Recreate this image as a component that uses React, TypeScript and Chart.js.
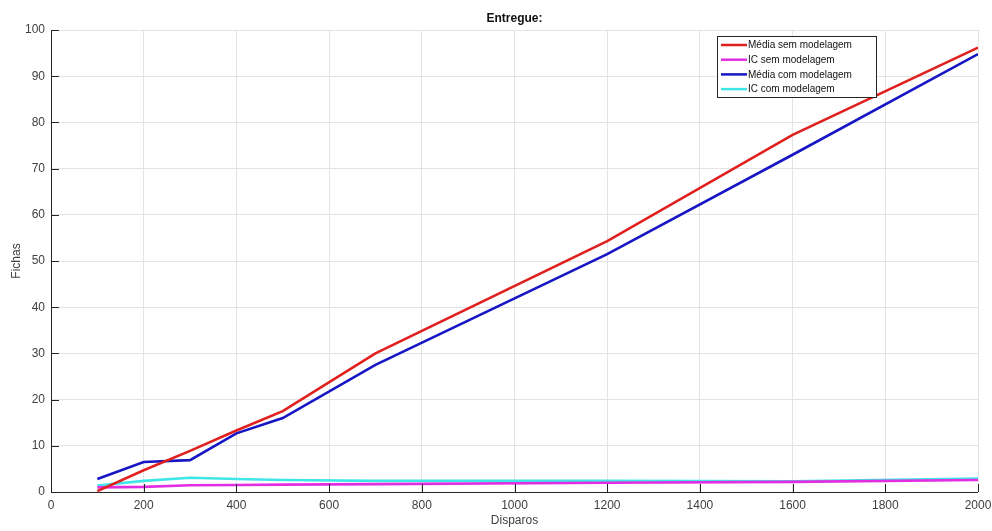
import React, { useEffect, useRef } from "react";
import { Chart, registerables } from "chart.js";

Chart.register(...registerables);

const disparos = [100, 200, 300, 400, 500, 700, 1200, 1600, 2000];
const mediaSem = [0.2, 4.7, 8.9, 13.3, 17.5, 30.0, 54.3, 77.3, 96.2];
const icSem = [1.0, 1.1, 1.45, 1.5, 1.6, 1.7, 2.0, 2.2, 2.6];
const mediaCom = [2.8, 6.5, 6.9, 12.7, 16.0, 27.5, 51.5, 73.0, 94.8];
const icCom = [1.4, 2.4, 3.1, 2.8, 2.6, 2.4, 2.4, 2.3, 2.9];

const xTicks = [0, 200, 400, 600, 800, 1000, 1200, 1400, 1600, 1800, 2000];
const yTicks = [0, 10, 20, 30, 40, 50, 60, 70, 80, 90, 100];

const seriesNames = ["Média sem modelagem", "IC sem modelagem", "Média com modelagem", "IC com modelagem"];
const seriesColors = ["#e0201e", "#e22ee2", "#1616c4", "#40e6e6"];

const FONT = "'Liberation Sans', Arial, Helvetica, sans-serif";
const AXIS = "#262626";
const LABEL = "#404040";

const pts = (ys: number[]) => disparos.map((x, i) => ({ x, y: ys[i] }));

// Title, inward tick marks, axis lines and the boxed legend
const decorations = {
  id: "decorations",
  afterDraw(chart: any) {
    const { ctx, chartArea: a, scales } = chart;
    const xs = scales.x;
    const ys = scales.y;
    ctx.save();
    ctx.strokeStyle = AXIS;
    ctx.lineWidth = 1;
    ctx.beginPath();
    ctx.moveTo(a.left + 0.5, a.top);
    ctx.lineTo(a.left + 0.5, a.bottom + 0.5);
    ctx.lineTo(a.right, a.bottom + 0.5);
    ctx.stroke();
    ctx.beginPath();
    for (const t of yTicks) {
      const py = Math.round(ys.getPixelForValue(t)) + 0.5;
      ctx.moveTo(a.left, py);
      ctx.lineTo(a.left + 8, py);
    }
    for (const t of xTicks) {
      const px = Math.round(xs.getPixelForValue(t)) + 0.5;
      ctx.moveTo(px, a.bottom);
      ctx.lineTo(px, a.bottom - 8);
    }
    ctx.stroke();

    ctx.fillStyle = "#111";
    ctx.font = `bold 12px ${FONT}`;
    ctx.textAlign = "center";
    ctx.textBaseline = "middle";
    ctx.fillText("Entregue:", (a.left + a.right) / 2, 19);

    // legend
    const lx = 717, ly = 36, lw = 159, lh = 61;
    ctx.fillStyle = "#ffffff";
    ctx.fillRect(lx, ly, lw, lh);
    ctx.strokeStyle = "#262626";
    ctx.lineWidth = 1;
    ctx.strokeRect(lx + 0.5, ly + 0.5, lw, lh);
    ctx.font = `10px ${FONT}`;
    ctx.textAlign = "left";
    seriesNames.forEach((name, i) => {
      const yy = ly + 9 + i * 14.7;
      ctx.strokeStyle = seriesColors[i];
      ctx.lineWidth = 2.5;
      ctx.beginPath();
      ctx.moveTo(lx + 4, yy);
      ctx.lineTo(lx + 30, yy);
      ctx.stroke();
      ctx.fillStyle = "#111";
      ctx.fillText(name, lx + 31, yy + 0.5);
    });
    ctx.restore();
  },
};

export default function App() {
  const ref = useRef<HTMLCanvasElement>(null);

  useEffect(() => {
    document.body.style.margin = "0";
    const chart = new Chart(ref.current!, {
      type: "line",
      data: {
        datasets: [mediaSem, icSem, mediaCom, icCom].map((ys, i) => ({
          label: seriesNames[i],
          data: pts(ys),
          borderColor: seriesColors[i],
          backgroundColor: seriesColors[i],
          borderWidth: 2.6,
          pointRadius: 0,
          tension: 0,
          fill: false,
        })),
      },
      options: {
        animation: false,
        responsive: false,
        layout: { padding: { top: 30, right: 14, left: 0, bottom: 0 } },
        plugins: { legend: { display: false }, title: { display: false }, tooltip: { enabled: false } },
        scales: {
          x: {
            type: "linear",
            min: 0,
            max: 2000,
            afterBuildTicks: (s: any) => { s.ticks = xTicks.map((v) => ({ value: v })); },
            afterFit: (s: any) => { s.height = 39; s.paddingRight = 0; s.paddingLeft = 0; },
            grid: { color: "#e4e4e4", tickLength: 0, drawTicks: false },
            border: { display: false },
            ticks: { color: LABEL, font: { family: FONT, size: 12 }, padding: 6, maxRotation: 0, callback: (v: any) => String(v) },
            title: { display: true, text: "Disparos", color: LABEL, font: { family: FONT, size: 12 }, padding: { top: 0, bottom: 3 } },
          },
          y: {
            type: "linear",
            min: 0,
            max: 100,
            afterBuildTicks: (s: any) => { s.ticks = yTicks.map((v) => ({ value: v })); },
            afterFit: (s: any) => { s.width = 51; s.paddingTop = 0; s.paddingBottom = 0; },
            grid: { color: "#e4e4e4", tickLength: 0, drawTicks: false },
            border: { display: false },
            ticks: { color: LABEL, font: { family: FONT, size: 12 }, padding: 6, callback: (v: any) => String(v) },
            title: { display: true, text: "Fichas", color: LABEL, font: { family: FONT, size: 12 }, padding: { top: 9, bottom: 0 } },
          },
        },
      },
      plugins: [decorations],
    });
    return () => chart.destroy();
  }, []);

  return (
    <div style={{ position: "absolute", left: 0, top: 0, width: 992, height: 531, background: "#fff" }}>
      <canvas ref={ref} width={992} height={531} style={{ width: 992, height: 531 }} />
    </div>
  );
}
